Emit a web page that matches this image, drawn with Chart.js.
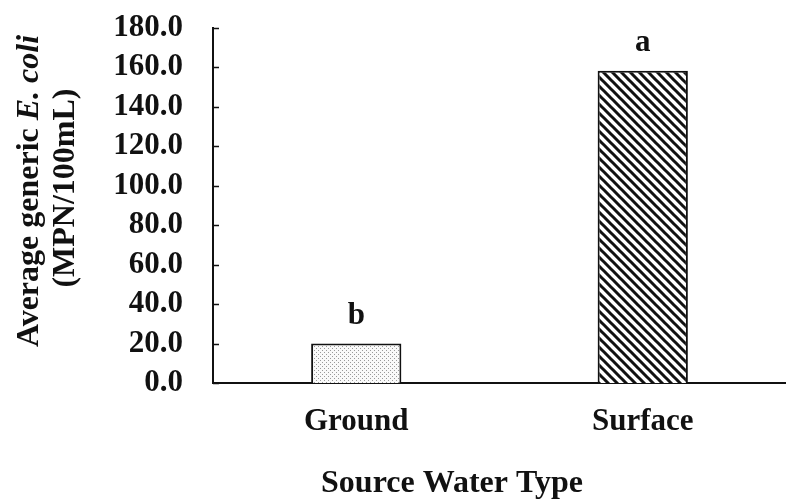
<!DOCTYPE html>
<html>
<head>
<meta charset="utf-8">
<script src="https://cdn.jsdelivr.net/npm/chart.js@4.4.0/dist/chart.umd.min.js"></script>
<style>
	body { margin: 0; background: #fff; }
	#wrap { width: 786px; height: 500px; }
</style>
</head>
<body>
<div id="wrap"><canvas id="ecoli"></canvas></div>
<script>
var categories = ['Ground', 'Surface'];
var meanValues = [20.0, 158.3];
var letters = ['b', 'a'];
var yTicks = [0, 20, 40, 60, 80, 100, 120, 140, 160, 180];
var xTitle = 'Source Water Type';

var FONT = "'Liberation Serif', 'Times New Roman', serif";
var SIZE = 31;

function dotPattern() {
	var c = document.createElement('canvas');
	c.width = 4; c.height = 4;
	var g = c.getContext('2d');
	g.fillStyle = '#fafafa';
	g.fillRect(0, 0, 4, 4);
	g.fillStyle = '#9a9a9a';
	g.fillRect(0, 0, 1, 1);
	g.fillRect(2, 2, 1, 1);
	return g.createPattern(c, 'repeat');
}

function hatchPattern() {
	var s = 9;
	var c = document.createElement('canvas');
	c.width = s; c.height = s;
	var g = c.getContext('2d');
	g.fillStyle = '#fff';
	g.fillRect(0, 0, s, s);
	g.strokeStyle = '#111';
	g.lineWidth = 3;
	g.beginPath();
	g.moveTo(-2, -2); g.lineTo(s + 2, s + 2);
	g.moveTo(-2, s - 2); g.lineTo(2, s + 2);
	g.moveTo(s - 2, -2); g.lineTo(s + 2, 2);
	g.stroke();
	return g.createPattern(c, 'repeat');
}

// inward y ticks, letters over bars, axis titles (y one has italic E. coli)
var extras = {
	id: 'extras',
	afterDraw: function(chart) {
		var ctx = chart.ctx;
		var ys = chart.scales.y;
		var meta = chart.getDatasetMeta(0);
		ctx.save();
		ctx.strokeStyle = '#111';
		ctx.lineWidth = 1.5;
		ctx.beginPath();
		yTicks.forEach(function(v) {
			var py = Math.round(ys.getPixelForValue(v)) + 0.5;
			ctx.moveTo(ys.right, py);
			ctx.lineTo(ys.right + 6, py);
		});
		ctx.stroke();

		ctx.fillStyle = '#111';
		ctx.font = 'bold ' + SIZE + 'px ' + FONT;
		ctx.textAlign = 'center';
		ctx.textBaseline = 'middle';
		for (var i = 0; i < meta.data.length; i++) {
			var bar = meta.data[i];
			ctx.fillText(letters[i], bar.x, bar.y - 28);
		}

		ctx.textBaseline = 'alphabetic';
		ctx.font = 'bold 32px ' + FONT;
		ctx.fillText(xTitle, 452, 492);

		// y title, rotated
		ctx.save();
		ctx.translate(38, 191);
		ctx.rotate(-Math.PI / 2);
		var parts = [
			{ t: 'Average generic ', f: 'bold 32px ' + FONT },
			{ t: 'E. coli', f: 'italic bold 32px ' + FONT }
		];
		var total = 0;
		parts.forEach(function(p) { ctx.font = p.f; p.w = ctx.measureText(p.t).width; total += p.w; });
		var x = -total / 2;
		ctx.textAlign = 'left';
		parts.forEach(function(p) { ctx.font = p.f; ctx.fillText(p.t, x, 0); x += p.w; });
		ctx.restore();
		ctx.translate(74, 188);
		ctx.rotate(-Math.PI / 2);
		ctx.font = 'bold 32px ' + FONT;
		ctx.textAlign = 'center';
		ctx.fillText('(MPN/100mL)', 0, 0);
		ctx.restore();
	}
};

var ctx = document.getElementById('ecoli');

var barGraph = new Chart(ctx, {
	type: 'bar',
	data: {
		labels: categories,
		datasets: [{
			data: meanValues,
			backgroundColor: [dotPattern(), hatchPattern()],
			borderColor: '#111',
			borderWidth: 2,
			borderSkipped: 'bottom',
			categoryPercentage: 0.315,
			barPercentage: 1.0
		}]
	},
	options: {
		responsive: true,
		maintainAspectRatio: false,
		animation: false,
		layout: { padding: { top: 28, right: 0, left: 0, bottom: 0 } },
		plugins: {
			legend: { display: false },
			tooltip: { enabled: false }
		},
		scales: {
			x: {
				afterFit: function(scale) {
					scale.height = 117;
					scale.paddingLeft = 0;
					scale.paddingRight = 0;
				},
				grid: { display: false, drawTicks: false },
				border: { color: '#111', width: 2 },
				ticks: {
					color: '#111',
					padding: 23,
					font: { family: FONT, size: SIZE, weight: 'bold', lineHeight: 1 }
				}
			},
			y: {
				min: 0,
				max: 180,
				afterBuildTicks: function(scale) {
					scale.ticks = yTicks.map(function(v) { return { value: v }; });
				},
				afterFit: function(scale) {
					scale.width = 213;
					scale.paddingTop = 0;
					scale.paddingBottom = 0;
				},
				grid: { display: false, drawTicks: false },
				border: { color: '#111', width: 2 },
				ticks: {
					autoSkip: false,
					color: '#111',
					padding: 30,
					font: { family: FONT, size: SIZE, weight: 'bold', lineHeight: 1 },
					callback: function(v) { return Number(v).toFixed(1); }
				}
			}
		}
	},
	plugins: [extras]
});
</script>
</body>
</html>
